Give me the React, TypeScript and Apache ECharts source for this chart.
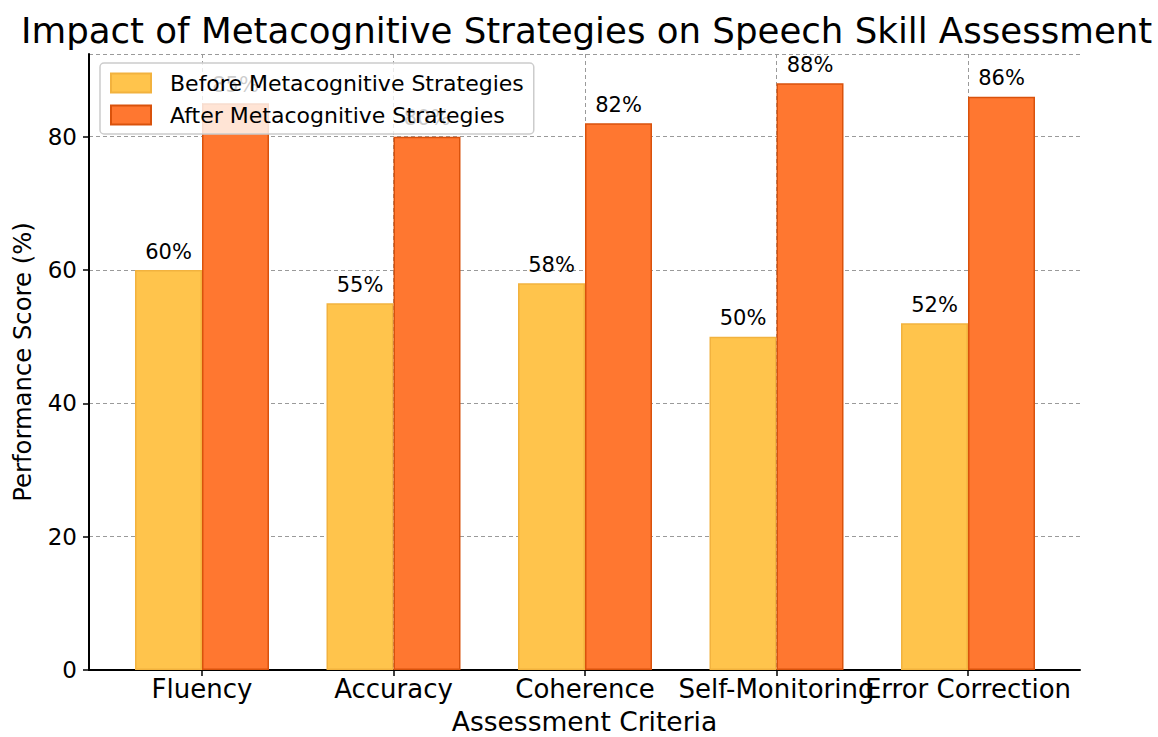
import React, { useEffect, useRef } from "react";
import * as echarts from "echarts";

const categories = ["Fluency", "Accuracy", "Coherence", "Self-Monitoring", "Error Correction"];
const beforeValues = [60, 55, 58, 50, 52];
const afterValues = [85, 80, 82, 88, 86];
const seriesNames = ["Before Metacognitive Strategies", "After Metacognitive Strategies"];
const titleText = "Impact of Metacognitive Strategies on Speech Skill Assessment";
const xAxisTitle = "Assessment Criteria";
const yAxisTitle = "Performance Score (%)";

const FONT = "'DejaVu Sans', sans-serif";

export default function App() {
  const ref = useRef<HTMLDivElement>(null);
  useEffect(() => {
    if (!ref.current) return;
    const chart = echarts.init(ref.current, null, { renderer: "svg" });
    const top = 54;
    const bottom = 67;
    const yMax = 92.4;
    const gridLine = { show: true, lineStyle: { color: "#9a9a9a", type: [4, 3], width: 1 } };
    const labelStyle = {
      show: true,
      position: "top",
      distance: 8,
      formatter: "{c}%",
      fontFamily: FONT,
      fontSize: 21,
      color: "#000",
    };
    chart.setOption({
      animation: false,
      backgroundColor: "#ffffff",
      textStyle: { fontFamily: FONT },
      title: {
        text: titleText,
        left: 16,
        top: 7,
        textStyle: { fontFamily: FONT, fontSize: 35.6, fontWeight: "normal", color: "#000" },
      },
      legend: {
        left: 100,
        top: 63,
        orient: "vertical",
        icon: "rect",
        itemWidth: 40,
        itemHeight: 19,
        itemGap: 10,
        padding: [9, 10, 8, 10],
        backgroundColor: "rgba(255,255,255,0.8)",
        borderColor: "#cccccc",
        borderWidth: 1.5,
        borderRadius: 4,
        textStyle: { fontFamily: FONT, fontSize: 22, color: "#000", padding: [0, 0, 0, 14] },
        data: seriesNames,
        z: 10,
      },
      grid: [
        { left: 89, right: 78, top, bottom, containLabel: false, outerBoundsMode: "none" },
        { left: 202, right: 190, top, bottom, containLabel: false, outerBoundsMode: "none" },
      ],
      xAxis: [
        {
          type: "value",
          gridIndex: 0,
          min: 0,
          max: 1,
          axisLine: { show: true, onZero: false, lineStyle: { color: "#000", width: 2 } },
          axisTick: { show: false },
          axisLabel: { show: false },
          splitLine: { show: false },
          name: xAxisTitle,
          nameLocation: "middle",
          nameGap: 38,
          nameTextStyle: { fontFamily: FONT, fontSize: 26.5, color: "#000" },
        },
        {
          type: "category",
          gridIndex: 1,
          data: categories,
          boundaryGap: false,
          axisLine: { show: false },
          axisTick: { show: true, inside: false, length: 6, interval: 0, lineStyle: { color: "#000", width: 1.5 } },
          axisLabel: { show: true, interval: 0, fontFamily: FONT, fontSize: 26, color: "#000", margin: 6 },
          splitLine: { ...gridLine, interval: 0 },
        },
      ],
      yAxis: [
        {
          type: "value",
          gridIndex: 0,
          min: 0,
          max: yMax,
          interval: 20,
          axisLine: { show: true, lineStyle: { color: "#000", width: 2 } },
          axisTick: { show: true, inside: false, length: 6, lineStyle: { color: "#000", width: 1.5 } },
          axisLabel: { fontFamily: FONT, fontSize: 23, color: "#000", margin: 12, showMaxLabel: false },
          splitLine: gridLine,
          name: yAxisTitle,
          nameLocation: "middle",
          nameGap: 55,
          nameRotate: 90,
          nameTextStyle: { fontFamily: FONT, fontSize: 24.3, color: "#000" },
        },
        {
          type: "value",
          gridIndex: 1,
          min: 0,
          max: yMax,
          show: false,
          splitLine: { show: false },
        },
      ],
      series: [
        {
          name: seriesNames[0],
          type: "bar",
          xAxisIndex: 1,
          yAxisIndex: 1,
          data: beforeValues,
          barWidth: 67,
          barGap: "0%",
          clip: false,
          itemStyle: { color: "#FFC44C", borderColor: "#F2B23E", borderWidth: 1.5 },
          label: labelStyle,
          z: 2,
        },
        {
          name: seriesNames[1],
          type: "bar",
          xAxisIndex: 1,
          yAxisIndex: 1,
          data: afterValues,
          barWidth: 67,
          barGap: "0%",
          clip: false,
          itemStyle: { color: "#FF7730", borderColor: "#D9520C", borderWidth: 1.5 },
          label: labelStyle,
          z: 2,
        },
      ],
    });
    return () => chart.dispose();
  }, []);
  return (
    <div
      ref={ref}
      style={{ position: "fixed", left: 0, top: 0, width: 1158, height: 737 }}
    />
  );
}
